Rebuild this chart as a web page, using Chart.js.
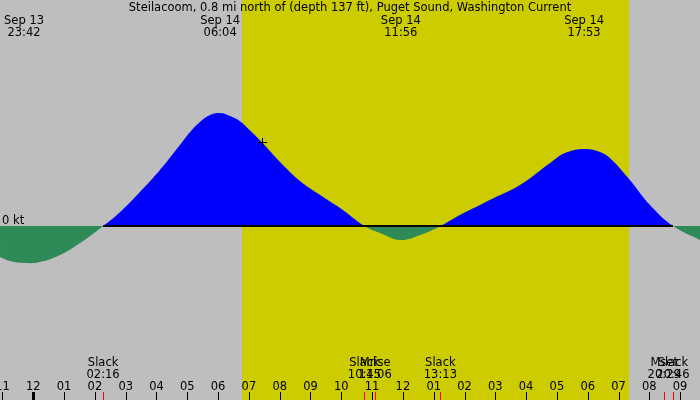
<!DOCTYPE html>
<html>
<head>
<meta charset="utf-8">
<script src="https://cdn.jsdelivr.net/npm/chart.js@4.4.1/dist/chart.umd.min.js"></script>
<style>
  html, body { margin: 0; padding: 0; background: #bebebe; }
  #wrap { width: 700px; height: 400px; }
</style>
</head>
<body>
<div id="wrap"><canvas id="tideChart" width="700" height="400"></canvas></div>
<script>
// Steilacoom current, hours relative to Sep 14 00:00, speed in knots
const stationTitle = 'Steilacoom, 0.8 mi north of (depth 137 ft), Puget Sound, Washington Current';
const hours  = [-1.08, -0.76, -0.27, 0.22, 0.87, 1.52, 2.27, 2.82, 3.46, 4.11, 4.76, 5.09, 5.41, 5.74,
                6.07, 6.39, 6.71, 7.04, 7.43, 8.01, 8.66, 9.31, 9.96, 10.75, 11.26, 11.91, 12.56,
                13.22, 13.85, 14.50, 14.82, 15.80, 16.78, 17.26, 17.91, 18.40, 18.72, 19.37, 20.02,
                20.77, 21.65];
const speeds = [-0.31, -0.35, -0.37, -0.36, -0.29, -0.17, 0.00, 0.14, 0.34, 0.56, 0.81, 0.94, 1.04, 1.11,
                1.13, 1.10, 1.048, 0.955, 0.835, 0.64, 0.45, 0.31, 0.18, 0.00, -0.07, -0.14, -0.09,
                0.00, 0.11, 0.21, 0.26, 0.41, 0.63, 0.73, 0.77, 0.74, 0.68, 0.46, 0.21,
                0.00, -0.14];

// max flood / ebb labels along the top
const peakDays  = ['Sep 13', 'Sep 14', 'Sep 14', 'Sep 14'];
const peakClock = ['23:42', '06:04', '11:56', '17:53'];

// events along the bottom
const eventNames = ['Slack', 'Slack', 'Mrise', 'Slack', 'Mset', 'Slack'];
const eventClock = ['02:16', '10:45', '11:06', '13:13', '20:29', '20:46'];

// hour ticks
const hourTicks  = [-1, 0, 1, 2, 3, 4, 5, 6, 7, 8, 9, 10, 11, 12, 13, 14, 15, 16, 17, 18, 19, 20, 21];
const hourLabels = ['11', '12', '01', '02', '03', '04', '05', '06', '07', '08', '09', '10',
                    '11', '12', '01', '02', '03', '04', '05', '06', '07', '08', '09'];

const sunrise = '06:46';
const sunset = '19:20';
const nowPoint = { x: 7.43, y: 0.835 };

function toHours(clock, day) {
  const p = clock.split(':');
  const h = parseInt(p[0], 10) + parseInt(p[1], 10) / 60;
  return day === 'Sep 13' ? h - 24 : h;
}

const fontName = '11.5px "DejaVu Sans"';

const tidePlugin = {
  id: 'tideDecor',
  beforeDraw(chart) {
    const ctx = chart.ctx;
    const x = chart.scales.x;
    ctx.save();
    ctx.fillStyle = '#bebebe';
    ctx.fillRect(0, 0, chart.width, chart.height);
    const x1 = Math.round(x.getPixelForValue(toHours(sunrise)));
    const x2 = Math.round(x.getPixelForValue(toHours(sunset)));
    ctx.fillStyle = '#cccc00';
    ctx.fillRect(x1, 0, x2 - x1, chart.height);
    ctx.restore();
  },
  afterDraw(chart) {
    const ctx = chart.ctx;
    const x = chart.scales.x;
    const y = chart.scales.y;
    const y0 = Math.round(y.getPixelForValue(0));
    ctx.save();

    // zero line between first and last slack
    const slackTimes = eventClock.filter((c, i) => eventNames[i] === 'Slack').map(c => toHours(c));
    ctx.fillStyle = '#000';
    const sx1 = x.getPixelForValue(slackTimes[0]);
    const sx2 = x.getPixelForValue(slackTimes[slackTimes.length - 1]);
    ctx.fillRect(sx1, y0 - 1, sx2 - sx1, 2);

    ctx.font = fontName;
    ctx.fillStyle = '#000';
    ctx.textAlign = 'left';
    ctx.fillText('0 kt', 2, y0 - 2);

    ctx.textAlign = 'center';
    ctx.fillText(stationTitle, 350, 11);

    for (let i = 0; i < peakClock.length; i++) {
      const px = x.getPixelForValue(toHours(peakClock[i], peakDays[i]));
      ctx.fillText(peakDays[i], px, 24);
      ctx.fillText(peakClock[i], px, 36);
    }

    for (let i = 0; i < eventNames.length; i++) {
      const px = x.getPixelForValue(toHours(eventClock[i]));
      ctx.fillStyle = '#000';
      ctx.fillText(eventNames[i], px, 366);
      ctx.fillText(eventClock[i], px, 378);
      ctx.fillStyle = '#ff0000';
      ctx.fillRect(Math.round(px), 392, 1, 8);
    }

    ctx.fillStyle = '#000';
    for (let i = 0; i < hourTicks.length; i++) {
      const px = x.getPixelForValue(hourTicks[i]);
      ctx.fillText(hourLabels[i], px, 390);
      if (hourTicks[i] === 0) {
        ctx.fillRect(Math.round(px) - 1, 392, 3, 8);
      } else {
        ctx.fillRect(Math.round(px), 392, 1, 8);
      }
    }

    // current-time cross, crisp 1px lines
    const cx = Math.round(x.getPixelForValue(nowPoint.x));
    const cy = Math.round(y.getPixelForValue(nowPoint.y));
    ctx.fillStyle = '#000';
    ctx.fillRect(cx - 4, cy, 9, 1);
    ctx.fillRect(cx, cy - 4, 1, 9);
    ctx.restore();
  }
};

new Chart(document.getElementById('tideChart'), {
  type: 'line',
  data: {
    datasets: [{
      data: hours.map((h, i) => ({ x: h, y: speeds[i] })),
      borderWidth: 0,
      borderColor: 'rgba(0,0,0,0)',
      pointRadius: 0,
      tension: 0.4,
      fill: { target: { value: 0 }, above: '#0000ff', below: '#2e8b57' }
    }]
  },
  options: {
    responsive: false,
    animation: false,
    devicePixelRatio: 1,
    layout: { padding: 0, autoPadding: false },
    scales: {
      x: { type: 'linear', min: -1.081, max: 21.646, display: false },
      y: { min: -1.74, max: 2.26, display: false }
    },
    plugins: { legend: { display: false }, tooltip: { enabled: false } }
  },
  plugins: [tidePlugin]
});
</script>
</body>
</html>
